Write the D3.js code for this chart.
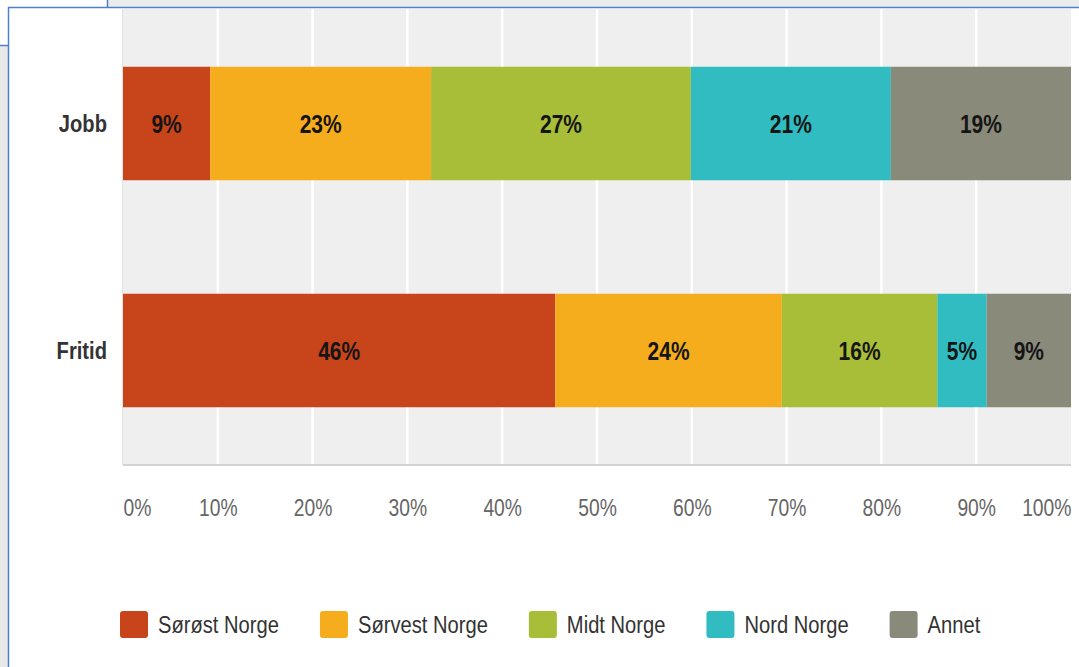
<!DOCTYPE html>
<html>
<head>
<meta charset="utf-8">
<script src="https://cdn.jsdelivr.net/npm/d3@7"></script>
<style>
  body { margin: 0; background: #fff; }
  svg { display: block; font-family: "Liberation Sans", Arial, sans-serif; }
</style>
</head>
<body>
<svg id="chart" width="1079" height="667"></svg>
<script>
// data
const categories = ["Jobb", "Fritid"]
const regions = ["Sørøst Norge", "Sørvest Norge", "Midt Norge", "Nord Norge", "Annet"]
const jobbValues = [9.2, 23.3, 27.4, 21.1, 19.0]
const fritidValues = [45.6, 23.9, 16.4, 5.2, 8.9]
const jobbLabels = ["9%", "23%", "27%", "21%", "19%"]
const fritidLabels = ["46%", "24%", "16%", "5%", "9%"]
const tickValues = [0, 10, 20, 30, 40, 50, 60, 70, 80, 90, 100]
const regionColors = ["#c8441a", "#f6ad1d", "#a8bd38", "#30bcc0", "#8a8a7a"]

const svg = d3.select("#chart")
const narrow = 0.84   // the original text is squeezed sideways

// window frames behind the chart
svg.append("rect").attr("x", 107).attr("y", 0).attr("width", 972).attr("height", 8).attr("fill", "#ebebeb")
svg.append("rect").attr("x", 0).attr("y", 45).attr("width", 8).attr("height", 622).attr("fill", "#e9e9e9")
svg.append("line").attr("x1", 107.5).attr("x2", 107.5).attr("y1", 0).attr("y2", 7)
    .attr("stroke", "#4f7fcc").attr("stroke-width", 1.5)
svg.append("line").attr("x1", 8).attr("x2", 1079).attr("y1", 7.5).attr("y2", 7.5)
    .attr("stroke", "#4f7fcc").attr("stroke-width", 1.5)
svg.append("line").attr("x1", 8.5).attr("x2", 8.5).attr("y1", 7).attr("y2", 667)
    .attr("stroke", "#4f7fcc").attr("stroke-width", 1.5)
svg.append("line").attr("x1", 0).attr("x2", 8).attr("y1", 45.5).attr("y2", 45.5)
    .attr("stroke", "#4f7fcc").attr("stroke-width", 1.5)

const x = d3.scaleLinear().domain([0, 100]).range([123, 1071])
const y = d3.scaleBand().domain(categories).range([10, 464]).paddingInner(0.5).paddingOuter(0.25)

// plot background
svg.append("rect")
    .attr("x", x(0)).attr("y", 9)
    .attr("width", x(100) - x(0)).attr("height", 455)
    .attr("fill", "#efefef")
svg.append("line")
    .attr("x1", x(0)).attr("x2", x(100)).attr("y1", 465).attr("y2", 465)
    .attr("stroke", "#d4d4d4").attr("stroke-width", 2)
svg.append("line")
    .attr("x1", x(0) - 0.5).attr("x2", x(0) - 0.5).attr("y1", 9).attr("y2", 465)
    .attr("stroke", "#e2e2e2").attr("stroke-width", 1)

// gridlines
svg.append("g")
    .selectAll("line")
    .data(tickValues.slice(1, -1))
    .enter().append("line")
    .attr("x1", d => x(d)).attr("x2", d => x(d))
    .attr("y1", 9).attr("y2", 464)
    .attr("stroke", "#ffffff").attr("stroke-width", 2.5)

// stacked bars
const rows = [
    { name: categories[0], values: jobbValues, labels: jobbLabels },
    { name: categories[1], values: fritidValues, labels: fritidLabels }
]

rows.forEach(function (row) {
    var acc = 0
    var segs = row.values.map(function (v, i) {
        var s = { start: acc, end: acc + v, label: row.labels[i], color: regionColors[i] }
        acc += v
        return s
    })

    var g = svg.append("g").attr("class", "row")

    g.selectAll("rect")
        .data(segs)
        .enter().append("rect")
        .attr("x", d => x(d.start))
        .attr("y", y(row.name))
        .attr("width", d => x(d.end) - x(d.start))
        .attr("height", y.bandwidth())
        .attr("fill", d => d.color)

    g.selectAll("text")
        .data(segs)
        .enter().append("text")
        .attr("transform", d => "translate(" + x((d.start + d.end) / 2) + "," + (y(row.name) + y.bandwidth() / 2) + ") scale(" + narrow + ",1)")
        .attr("dy", "0.36em")
        .attr("text-anchor", "middle")
        .attr("font-size", 25)
        .attr("font-weight", "bold")
        .attr("fill", "#151515")
        .text(d => d.label)

    // category label
    svg.append("text")
        .attr("transform", "translate(107," + (y(row.name) + y.bandwidth() / 2) + ") scale(" + narrow + ",1)")
        .attr("dy", "0.36em")
        .attr("text-anchor", "end")
        .attr("font-size", 24)
        .attr("font-weight", "bold")
        .attr("fill", "#333")
        .text(row.name)
})

// x axis
const xAxis = d3.axisBottom(x)
    .tickValues(tickValues)
    .tickSize(0)
    .tickPadding(0)
    .tickFormat(d => d + "%")

const axisG = svg.append("g")
    .attr("class", "x axis")
    .attr("transform", "translate(0,516)")
    .call(xAxis)

axisG.select(".domain").remove()
axisG.selectAll("text")
    .attr("y", 0)
    .attr("dy", 0)
    .attr("font-size", 23)
    .attr("font-family", "Liberation Sans, Arial, sans-serif")
    .attr("fill", "#666")
    .attr("transform", "scale(" + narrow + ",1)")
    .attr("text-anchor", (d, i) => i == 0 ? "start" : (i == tickValues.length - 1 ? "end" : "middle"))

// legend
const legend = svg.append("g").attr("class", "legend")
var lx = 120
regions.forEach(function (name, i) {
    legend.append("rect")
        .attr("x", lx).attr("y", 611)
        .attr("width", 28).attr("height", 27)
        .attr("rx", 3)
        .attr("fill", regionColors[i])
    var t = legend.append("text")
        .attr("transform", "translate(" + (lx + 38) + ",633) scale(" + narrow + ",1)")
        .attr("font-size", 24)
        .attr("fill", "#333")
        .text(name)
    var w = t.node().getComputedTextLength() * narrow
    lx = lx + 38 + w + 41
})
</script>
</body>
</html>
